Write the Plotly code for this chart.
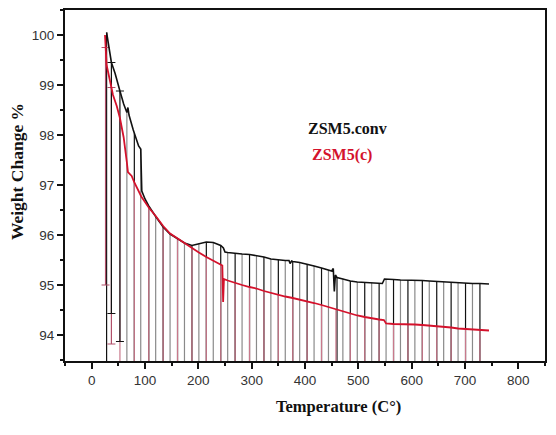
import plotly.graph_objects as go

# ZSM5.conv curve (temperature in C, weight %)
black_temp = [28, 33, 37, 44, 50, 53, 60, 66, 68, 70, 78, 80, 88, 92, 94, 100, 107, 120, 134, 147,
              161, 174, 188, 201, 215, 228, 242, 247, 250, 255, 269, 282, 296, 309, 323, 336, 350,
              363, 370, 372, 375, 377, 390, 404, 417, 431, 444, 450, 453, 455, 457, 460, 471, 485,
              498, 512, 525, 539, 545, 549, 552, 566, 579, 593, 606, 620, 633, 647, 660, 674, 687,
              701, 714, 728, 745]
black_weight = [100.05, 99.66, 99.45, 99.23, 98.97, 98.88, 98.62, 98.45, 98.55, 98.4, 98.1, 98.03,
                97.78, 97.72, 96.88, 96.72, 96.58, 96.37, 96.16, 96.02, 95.92, 95.84, 95.79, 95.83,
                95.86, 95.85, 95.79, 95.74, 95.66, 95.65, 95.63, 95.62, 95.61, 95.59, 95.56, 95.52,
                95.5, 95.49, 95.49, 95.43, 95.48, 95.47, 95.45, 95.42, 95.38, 95.34, 95.3, 95.28,
                95.33, 94.87, 95.2, 95.15, 95.12, 95.08, 95.06, 95.05, 95.05, 95.04, 95.03, 95.12,
                95.12, 95.11, 95.1, 95.1, 95.1, 95.09, 95.08, 95.07, 95.06, 95.05, 95.04, 95.04,
                95.03, 95.03, 95.02]

# ZSM5(c) curve
red_temp = [25, 26, 28, 33, 37, 40, 47, 53, 60, 63, 66, 68, 72, 75, 80, 87, 93, 100, 107, 120, 134,
            147, 161, 174, 188, 201, 215, 228, 242, 245, 246.5, 248, 255, 269, 282, 296, 309, 323,
            336, 350, 363, 377, 390, 404, 417, 431, 444, 458, 471, 485, 498, 512, 525, 539, 548,
            552, 566, 579, 593, 606, 620, 633, 647, 660, 674, 687, 701, 714, 728, 745]
red_weight = [100.0, 99.75, 99.4, 99.15, 98.95, 98.8, 98.58, 98.34, 97.95, 97.74, 97.45, 97.26,
              97.22, 97.18, 97.05, 96.9, 96.77, 96.66, 96.55, 96.38, 96.18, 96.03, 95.93, 95.83,
              95.74, 95.65, 95.56, 95.48, 95.41, 95.39, 94.66, 95.12, 95.09, 95.04, 95.0, 94.96,
              94.93, 94.88, 94.84, 94.81, 94.77, 94.74, 94.71, 94.68, 94.64, 94.6, 94.56, 94.52,
              94.47, 94.43, 94.39, 94.36, 94.33, 94.31, 94.3, 94.23, 94.22, 94.22, 94.21, 94.21,
              94.2, 94.19, 94.18, 94.16, 94.15, 94.13, 94.12, 94.11, 94.1, 94.09]

# error bars: where they hang from and the lower end (93.0 = runs off the axis)
black_bar_temp = [28, 37, 53, 66, 80, 92, 107, 120, 134, 147, 161, 174, 188, 201, 215, 228, 242,
                  255, 269, 282, 296, 309, 323, 336, 350, 363, 377, 390, 404, 417, 431, 444, 460,
                  471, 485, 498, 512, 525, 539, 552, 566, 579, 593, 606, 620, 633, 647, 660, 674,
                  687, 701, 714, 728]
black_bar_low = [93.0, 94.43, 93.87] + [93.0] * 50
red_bar_temp = [26, 37, 53, 80, 107, 134, 161, 188, 215, 242, 269, 296, 323, 350, 377, 404, 431,
                458, 485, 512, 539, 566, 593, 620, 647, 674, 701, 728]
red_bar_low = [95.0, 93.82] + [93.0] * 26

ymin, ymax = 93.48, 100.5
RED = "#d4122c"

# the page puts the figure 8px in from the corner, so size it to fill the 556x435 window
PAD = 8
W, H = 556 - PAD, 435 - PAD
L, R, T, B = 57, 11, 0, 74
pw, ph = W - L - R, H - T - B

fig = go.Figure()


def add_bars(temps, lows, curve_t, curve_w, color, width):
    lookup = dict(zip(curve_t, curve_w))
    tops = [lookup[t] for t in temps]
    fig.add_trace(go.Scatter(
        x=temps, y=tops, mode="markers", marker=dict(size=1, opacity=0),
        error_y=dict(type="data", symmetric=False, array=[0] * len(temps),
                     arrayminus=[top - lo for top, lo in zip(tops, lows)],
                     color=color, thickness=1.2, width=width),
        showlegend=False, hoverinfo="skip"))


# black bars: capped ones on their own, the rest alternate dark / grey
capped = [i for i, lo in enumerate(black_bar_low) if lo > ymin]
plain = [i for i, lo in enumerate(black_bar_low) if lo <= ymin]
dark = plain[0::2]
grey = plain[1::2]
add_bars([black_bar_temp[i] for i in dark], [black_bar_low[i] for i in dark],
         black_temp, black_weight, "#111111", 0)
add_bars([black_bar_temp[i] for i in grey], [black_bar_low[i] for i in grey],
         black_temp, black_weight, "#8a8a8a", 0)

rc = [i for i, lo in enumerate(red_bar_low) if lo > ymin]
rp = [i for i, lo in enumerate(red_bar_low) if lo <= ymin]
add_bars([red_bar_temp[i] for i in rp], [red_bar_low[i] for i in rp],
         red_temp, red_weight, "#c9798c", 0)
add_bars([red_bar_temp[i] for i in rc], [red_bar_low[i] for i in rc],
         red_temp, red_weight, "#b0506a", 4)
add_bars([black_bar_temp[i] for i in capped], [black_bar_low[i] for i in capped],
         black_temp, black_weight, "#111111", 4)

fig.add_trace(go.Scatter(x=black_temp, y=black_weight, mode="lines",
                         line=dict(color="#111111", width=1.6), name="ZSM5.conv",
                         showlegend=False))
fig.add_trace(go.Scatter(x=red_temp, y=red_weight, mode="lines",
                         line=dict(color=RED, width=1.8), name="ZSM5(c)",
                         showlegend=False))


def px_note(px, py, text, size, color, xanchor="center", angle=0):
    # place text by window pixel position
    fig.add_annotation(x=(px - PAD - L) / pw, y=(PAD + H - B - py) / ph,
                       xref="paper", yref="paper", text=text, showarrow=False,
                       xanchor=xanchor, textangle=angle,
                       font=dict(family="Liberation Serif, Times New Roman, serif",
                                 size=size, color=color))


px_note(306, 127, "<b>ZSM5.conv</b>", 16, "#111111", xanchor="left")
px_note(310, 154, "<b>ZSM5(c)</b>", 16, RED, xanchor="left")
px_note(338, 418, "<b>Temperature (C°)</b>", 16.5, "#111111")
px_note(17, 171, "<b>Weight Change %</b>", 17.5, "#111111", angle=-90)

tickfont = dict(family="Liberation Sans, Arial, sans-serif", size=13.5, color="#333333")
fig.update_xaxes(range=[-50, 850], tickvals=[0, 100, 200, 300, 400, 500, 600, 700, 800],
                 showline=True, linewidth=2, linecolor="#111111", mirror=True,
                 ticks="outside", ticklen=6, tickwidth=1.5, tickcolor="#111111",
                 minor=dict(dtick=50, tick0=0, ticks="outside", ticklen=3, tickcolor="#111111"),
                 showgrid=False, zeroline=False, tickfont=tickfont)
fig.update_yaxes(range=[ymin, ymax], tickvals=[94, 95, 96, 97, 98, 99, 100],
                 showline=True, linewidth=2, linecolor="#111111", mirror=True,
                 ticks="outside", ticklen=6, tickwidth=1.5, tickcolor="#111111",
                 minor=dict(dtick=0.5, tick0=0, ticks="outside", ticklen=3, tickcolor="#111111"),
                 showgrid=False, zeroline=False, tickfont=tickfont)
fig.update_layout(width=W, height=H, margin=dict(l=L, r=R, t=T, b=B),
                  plot_bgcolor="white", paper_bgcolor="white")

fig.write_html("out.html")
